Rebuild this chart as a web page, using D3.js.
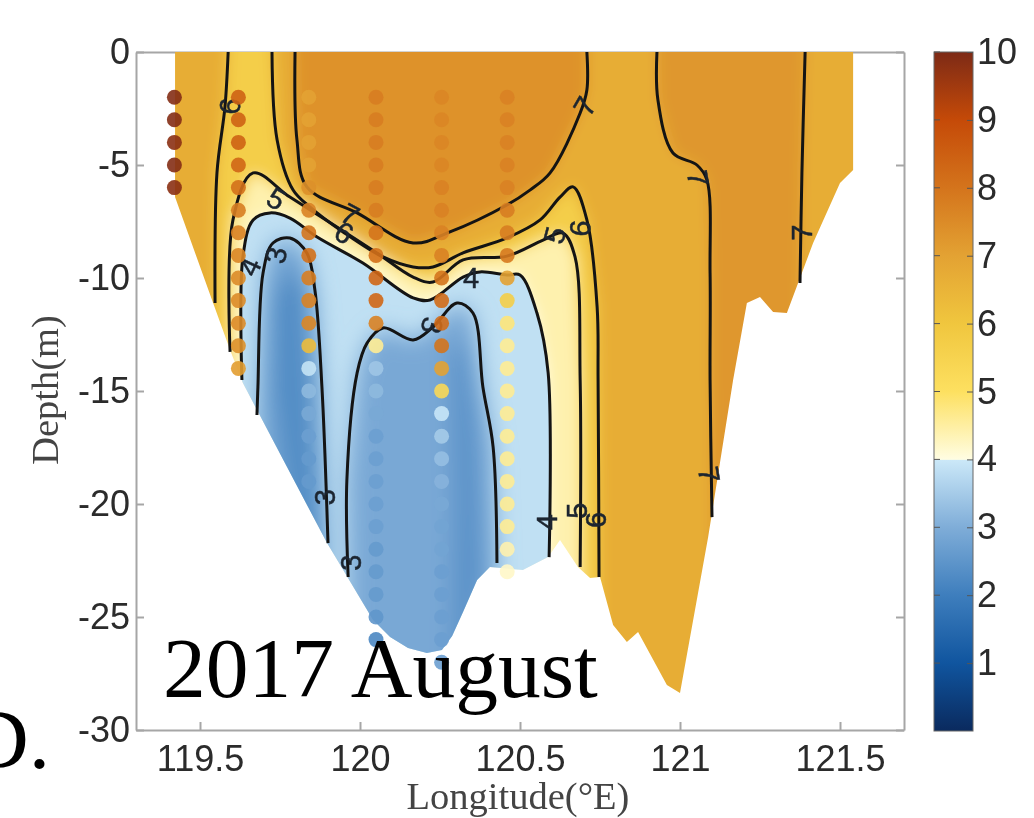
<!DOCTYPE html>
<html>
<head>
<meta charset="utf-8">
<title>2017 August</title>
<script src="https://cdnjs.cloudflare.com/ajax/libs/d3/7.8.5/d3.min.js"></script>
<style>
html, body { margin: 0; padding: 0; background: #fff; overflow: hidden; }
svg { display: block; filter: blur(0.7px); }
.tickText { font-family: "Liberation Sans", Arial, sans-serif; font-size: 36px; fill: #2b2b2b; }
.axisTitle { font-family: "Liberation Serif", "Times New Roman", serif; font-size: 38.5px; fill: #444; }
.bigText { font-family: "Liberation Serif", "Times New Roman", serif; font-size: 85.5px; fill: #000; }
.contourText { font-family: "Liberation Sans", Arial, sans-serif; font-size: 29px; fill: #1c2530; stroke: #1c2530; stroke-width: 0.5px; text-anchor: middle; dominant-baseline: central; }
</style>
</head>
<body>
<script>
//pseudo-global variables
var lonTicks = [119.5, 120, 120.5, 121, 121.5];
var depthTicks = [0, -5, -10, -15, -20, -25, -30];
var barTicks = [1, 2, 3, 4, 5, 6, 7, 8, 9, 10];

//colormap stops, temperature then colour
var cmapValues = [0, 1, 2, 3, 3.99, 4, 5, 6, 7, 8, 9, 10];
var cmapColors = ["#0a2a5e", "#10559f", "#3e7ebd", "#7fadd8", "#cbe8f8", "#fffde2", "#fde060", "#f0c63e", "#e3a233", "#d4741c", "#c54a08", "#7d2a16"];

//section outline, [lon, depth]
var coast = [[119.422,0],[119.422,-6.42],[119.541,-11.11],[119.594,-13.19],[119.634,-14.65],[119.897,-21.73],[120.041,-25.13],[120.094,-25.88],[120.15,-26.37],[120.209,-26.59],[120.256,-26.46],[120.288,-25.84],[120.322,-24.78],[120.366,-23.36],[120.406,-22.79],[120.509,-22.92],[120.588,-22.35],[120.625,-21.59],[120.681,-22.79],[120.719,-23.27],[120.75,-23.23],[120.791,-25.35],[120.834,-26.11],[120.869,-25.66],[120.959,-28.01],[121,-28.36],[121.088,-21.46],[121.166,-14.51],[121.209,-11.11],[121.25,-10.84],[121.291,-11.5],[121.334,-11.55],[121.416,-8.45],[121.5,-5.8],[121.541,-5.22],[121.541,0]];

//contour lines
var line6Left = [[119.588,0],[119.578,-2.43],[119.553,-5.35],[119.547,-11.11]];
var line6Main = [[119.725,0],[119.741,-3.89],[119.791,-6.11],[119.844,-6.86],[119.947,-7.96],[120.072,-9.07],[120.166,-9.51],[120.228,-9.51],[120.322,-8.89],[120.459,-8.23],[120.563,-7.43],[120.625,-6.42],[120.666,-5.97],[120.709,-7.43],[120.741,-11.28],[120.744,-14.51],[120.747,-23.23]];
var line7Mid = [[119.797,0],[119.803,-3.89],[119.834,-5.97],[119.991,-7.12],[120.166,-8.45],[120.281,-7.96],[120.459,-6.77],[120.531,-6.11],[120.594,-5.35],[120.688,-2.7],[120.709,-1.68],[120.709,0]];
var line5 = [[119.594,-13.27],[119.603,-7.43],[119.666,-5.35],[119.781,-6.42],[119.928,-7.74],[120.053,-8.89],[120.166,-9.96],[120.228,-10.18],[120.322,-9.2],[120.459,-9.03],[120.572,-8.32],[120.634,-8.01],[120.672,-9.07],[120.688,-14.51],[120.688,-22.79]];
var line4 = [[119.631,-14.51],[119.634,-9.07],[119.666,-7.43],[119.719,-7.12],[119.781,-7.35],[119.866,-8.19],[120.009,-9.34],[120.166,-10.88],[120.219,-10.97],[120.322,-9.96],[120.375,-9.73],[120.459,-9.87],[120.5,-9.87],[120.553,-11.55],[120.588,-14.2],[120.591,-22.35]];
var line3West = [[119.678,-16.06],[119.681,-14.82],[119.697,-9.78],[119.728,-8.45],[119.781,-8.23],[119.834,-8.89],[119.859,-10.53],[119.881,-14.82],[119.9,-21.73]];
var line3East = [[119.963,-23.23],[119.959,-18.94],[119.991,-14.2],[120.022,-12.88],[120.072,-12.21],[120.166,-12.74],[120.228,-12.17],[120.303,-11.11],[120.353,-11.55],[120.384,-14.82],[120.416,-17.48],[120.428,-22.61]];
var line7East = [[120.928,0],[120.931,-2.12],[120.978,-4.47],[121.053,-5],[121.084,-5.66],[121.094,-9.78],[121.094,-14.51],[121.1,-20.58]];
var line7Far = [[121.391,0],[121.381,-5.35],[121.375,-10.22]];

//colder cores inside the 3 degree tongues
var coreWest = [[119.73,-11],[119.78,-9.4],[119.83,-10.6],[119.85,-16],[119.88,-22.5],[119.8,-22.5],[119.73,-15]];
var coreEast = [[120.28,-13.5],[120.33,-12.5],[120.37,-16],[120.39,-23],[120.33,-28],[120.28,-28],[120.29,-20]];

//contour labels: value, lon, depth, angle
var labelValues = [6, 5, 7, 6, 3, 4, 3, 4, 7, 5, 6, 7, 7, 7, 3, 3, 4, 5, 6];
var labelLons = [119.594, 119.738, 119.969, 119.95, 119.738, 119.656, 120.225, 120.347, 120.703, 120.609, 120.688, 121.056, 121.381, 121.091, 119.891, 119.972, 120.584, 120.678, 120.738];
var labelDepths = [-2.4, -6.5, -7.2, -8, -9, -9.5, -12.1, -10, -2.4, -8.1, -7.8, -5.6, -8, -18.7, -19.7, -22.6, -20.8, -20.3, -20.7];
var labelAngles = [-85, 30, 28, 30, -80, -65, 100, 0, -60, -75, -85, 80, -90, 80, -90, -90, -90, -90, -90];

//sampling stations, temperatures from 2 m down in 1 m steps
var stationLons = [119.42, 119.62, 119.84, 120.05, 120.255, 120.46];
var station1 = [9.9, 9.9, 9.8, 9.9, 9.8];
var station2 = [8.4, 8.4, 8.4, 8.3, 8.1, 7.8, 7.7, 7.6, 7.5, 7.5, 7.5, 7.4, 7.1];
var station3 = [7, 7, 7, 7, 7.4, 7.7, 8, 8.1, 7.8, 7.7, 7.6, 6.3, 3.9, 3.2, 2.9, 2.7, 2.6, 2.6];
var station4 = [7.8, 7.8, 7.8, 7.8, 7.8, 7.8, 8, 8.1, 8.3, 8.3, 7.7, 4.6, 3.4, 3.2, 2.9, 2.7, 2.7, 2.7, 2.7, 2.7, 2.6, 2.6, 2.6, 2.5, 2.2];
var station5 = [7.6, 7.6, 7.6, 7.6, 7.7, 7.7, 7.7, 7.7, 8, 8.2, 8.2, 8, 7, 5.3, 3.95, 3.5, 3.3, 3.1, 2.9, 2.8, 2.8, 2.7, 2.7, 2.7, 2.7, 2.7];
var station6 = [7.7, 7.7, 7.7, 7.7, 7.7, 7.8, 7.8, 7.9, 7, 5.7, 4.8, 4.6, 4.6, 4.6, 4.6, 4.6, 4.6, 4.6, 4.6, 4.6, 4.4, 4.2];
var stations = [station1, station2, station3, station4, station5, station6];

//begin script when window loads
window.onload = setChart();

function setChart(){
	var width = 1034,
		height = 818,
		top = 52,
		bottom = 730,
		left = 136,
		right = 904;

	var svg = d3.select("body")
		.append("svg")
		.attr("width", width)
		.attr("height", height);

	var x = d3.scaleLinear().domain([119.3, 121.7]).range([left, right]);
	var y = d3.scaleLinear().domain([0, -30]).range([top, bottom]);
	var color = d3.scaleLinear().domain(cmapValues).range(cmapColors);

	var line = d3.line()
		.x(function(d){ return x(d[0]); })
		.y(function(d){ return y(d[1]); })
		.curve(d3.curveCatmullRom.alpha(0.5));
	var straight = d3.line()
		.x(function(d){ return x(d[0]); })
		.y(function(d){ return y(d[1]); });

	var defs = svg.append("defs");

	defs.append("clipPath").attr("id", "coastClip")
		.append("path").attr("d", straight(coast));
	defs.append("clipPath").attr("id", "coldClip")
		.append("path").attr("d", line(openBelow(line4)));

	var soft = defs.append("filter").attr("id", "soft")
		.attr("filterUnits", "userSpaceOnUse")
		.attr("x", 0).attr("y", 0).attr("width", width).attr("height", height);
	soft.append("feGaussianBlur").attr("stdDeviation", 7);

	var softer = defs.append("filter").attr("id", "softer")
		.attr("filterUnits", "userSpaceOnUse")
		.attr("x", 0).attr("y", 0).attr("width", width).attr("height", height);
	softer.append("feGaussianBlur").attr("stdDeviation", 11);

	//frame goes below the fill
	drawAxes(svg, x, y, top, bottom, left, right);

	//filled temperature section
	var section = svg.append("g").attr("clip-path", "url(#coastClip)");

	var warm = section.append("g").attr("filter", "url(#soft)");
	warm.append("rect")
		.attr("x", 0).attr("y", 0).attr("width", width).attr("height", height)
		.attr("fill", color(6.7));
	addBand(warm, closeTop(line7Mid), 7.35);
	addBand(warm, closeBetween(line7East, line7Far), 7.25);
	addBand(warm, closeBetween(line6Left, line6Main), 5.7);
	addBand(warm, openBelow(line5), 4.4);
	addBand(warm, openBelow(line4), 4.02);

	var cold = section.append("g").attr("clip-path", "url(#coldClip)");
	cold.append("rect")
		.attr("x", 0).attr("y", 0).attr("width", width).attr("height", height)
		.attr("fill", color(3.85));
	var coldSoft = cold.append("g").attr("filter", "url(#softer)");
	addBand(coldSoft, openBelow(line3West), 2.85);
	addBand(coldSoft, openBelow(line3East), 2.9);
	addBand(coldSoft, coreWest, 2.3);
	addBand(coldSoft, coreEast, 2.45);

	function addBand(g, pts, value){
		g.append("path")
			.attr("d", straight(pts))
			.attr("fill", color(value));
	}

	//isotherms
	var isolines = [line6Left, line6Main, line7Mid, line5, line4, line3West, line3East, line7East, line7Far];
	svg.selectAll(".isoline")
		.data(isolines)
		.enter()
		.append("path")
		.attr("class", "isoline")
		.attr("d", line)
		.attr("fill", "none")
		.attr("stroke", "#141414")
		.attr("stroke-width", 3);

	//contour labels
	svg.selectAll(".contourText")
		.data(labelValues)
		.enter()
		.append("text")
		.attr("class", "contourText")
		.attr("transform", function(d, i){
			return "translate(" + x(labelLons[i]) + "," + y(labelDepths[i]) + ") rotate(" + labelAngles[i] + ")";
		})
		.text(function(d){ return d; });

	//station dots
	stations.forEach(function(temps, s){
		svg.append("g").selectAll("circle")
			.data(temps)
			.enter()
			.append("circle")
			.attr("cx", x(stationLons[s]))
			.attr("cy", function(d, i){ return y(-2 - i); })
			.attr("r", 7.5)
			.attr("fill", function(d){ return color(d); })
			.attr("fill-opacity", 0.9);
	});

	drawColorbar(svg, color);

	//big annotations
	svg.append("text").attr("class", "bigText").attr("x", 163).attr("y", 697).text("2017 August");
	svg.append("text").attr("class", "bigText").attr("x", -33).attr("y", 768).text("D.");

	//axis titles
	svg.append("text").attr("class", "axisTitle")
		.attr("x", 518).attr("y", 809)
		.attr("text-anchor", "middle")
		.text("Longitude(\u00b0E)");
	svg.append("text").attr("class", "axisTitle")
		.attr("transform", "translate(58,390) rotate(-90)")
		.attr("text-anchor", "middle")
		.text("Depth(m)");
}

//close a contour that runs from bottom to bottom by going under the section
function openBelow(pts){
	var first = pts[0], last = pts[pts.length - 1];
	return [[first[0], -33]].concat(pts, [[last[0], -33]]);
}

//close a contour whose two ends sit on the surface
function closeTop(pts){
	var first = pts[0], last = pts[pts.length - 1];
	return [[first[0], 3]].concat(pts, [[last[0], 3]]);
}

//area between two contours starting at the surface
function closeBetween(a, b){
	var bBack = b.slice().reverse();
	return [[a[0][0], 3]].concat(a, [[a[a.length - 1][0], -33], [b[b.length - 1][0], -33]], bBack, [[b[0][0], 3]]);
}

function drawAxes(svg, x, y, top, bottom, left, right){
	var axisBottom = d3.axisBottom(x).tickValues(lonTicks).tickFormat(String).tickSizeInner(-8).tickSizeOuter(0).tickPadding(15);
	var axisTop = d3.axisTop(x).tickValues(lonTicks).tickFormat("").tickSizeInner(-8).tickSizeOuter(0);
	var axisLeft = d3.axisLeft(y).tickValues(depthTicks).tickFormat(String).tickSizeInner(-8).tickSizeOuter(0).tickPadding(6);
	var axisRight = d3.axisRight(y).tickValues(depthTicks).tickFormat("").tickSizeInner(-8).tickSizeOuter(0);

	var groups = [
		svg.append("g").attr("transform", "translate(0," + bottom + ")").call(axisBottom),
		svg.append("g").attr("transform", "translate(0," + top + ")").call(axisTop),
		svg.append("g").attr("transform", "translate(" + left + ",0)").call(axisLeft),
		svg.append("g").attr("transform", "translate(" + right + ",0)").call(axisRight)
	];
	groups.forEach(function(g){
		g.selectAll("path, line").attr("stroke", "#a6a6a6").attr("stroke-width", 2);
		g.selectAll("text").attr("class", "tickText").attr("fill", null);
	});
}

function drawColorbar(svg, color){
	var barScale = d3.scaleLinear().domain([0, 10]).range([731, 52]);
	var barX = 934, barW = 39;

	//gradient built from the same colormap
	var grad = svg.select("defs").append("linearGradient")
		.attr("id", "barGrad")
		.attr("x1", 0).attr("y1", 1).attr("x2", 0).attr("y2", 0);
	grad.selectAll("stop")
		.data(cmapValues)
		.enter()
		.append("stop")
		.attr("offset", function(d){ return d / 10; })
		.attr("stop-color", function(d){ return color(d); });

	svg.append("rect")
		.attr("x", barX).attr("y", barScale(10))
		.attr("width", barW).attr("height", barScale(0) - barScale(10))
		.attr("fill", "url(#barGrad)")
		.attr("stroke", "#666")
		.attr("stroke-width", 1);

	var axis = d3.axisRight(barScale)
		.tickValues(barTicks)
		.tickFormat(String)
		.tickSizeInner(-6)
		.tickSizeOuter(0)
		.tickPadding(4);
	var g = svg.append("g").attr("transform", "translate(" + (barX + barW) + ",0)").call(axis);
	g.select(".domain").remove();
	g.selectAll("line").attr("stroke", "#555");
	g.selectAll("text").attr("class", "tickText").attr("fill", null);

	//matching tick marks on the left edge
	svg.append("g").selectAll("line")
		.data(barTicks)
		.enter()
		.append("line")
		.attr("x1", barX).attr("x2", barX + 6)
		.attr("y1", function(d){ return barScale(d); })
		.attr("y2", function(d){ return barScale(d); })
		.attr("stroke", "#555");
}
</script>
</body>
</html>
